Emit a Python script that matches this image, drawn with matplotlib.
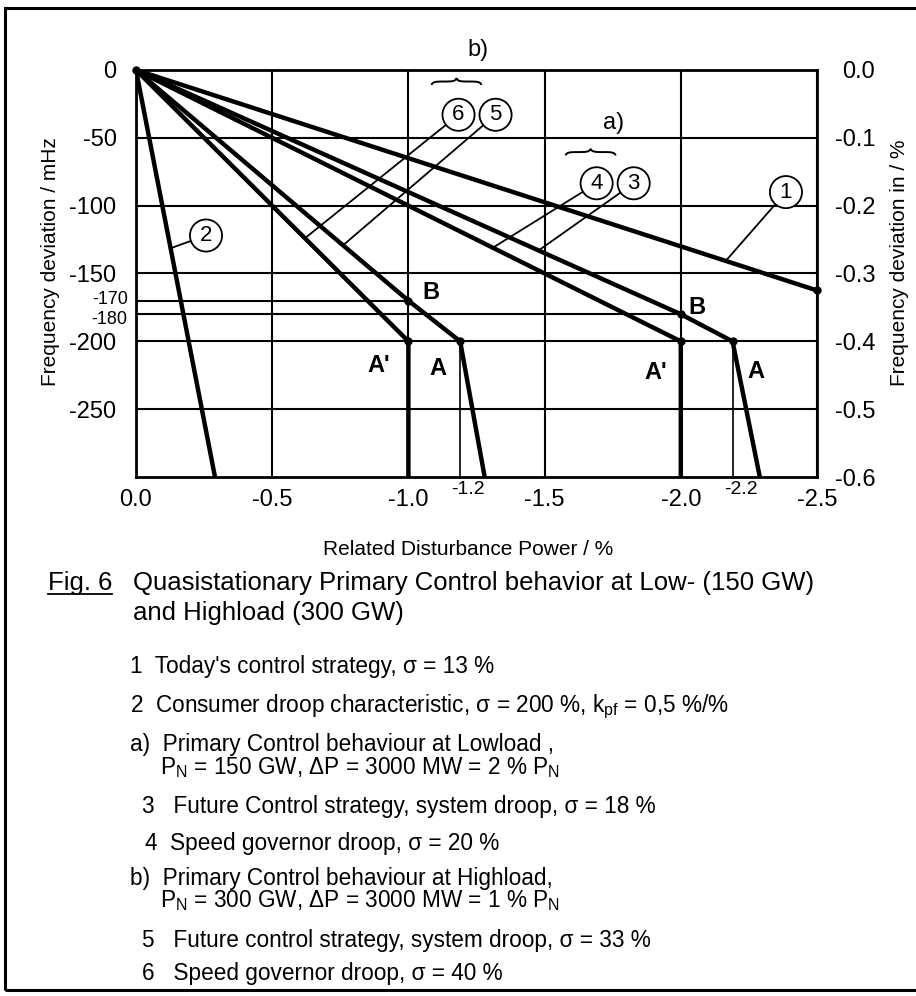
import numpy as np
import matplotlib.pyplot as plt
from matplotlib.path import Path
from matplotlib.patches import PathPatch, Rectangle
from matplotlib.transforms import ScaledTranslation

plt.rcParams['font.family'] = ['Liberation Sans', 'DejaVu Sans']
plt.rcParams['axes.unicode_minus'] = False
plt.rcParams['mathtext.fontset'] = 'custom'
plt.rcParams['mathtext.rm'] = 'Liberation Sans'
plt.rcParams['mathtext.it'] = 'Liberation Sans:italic'

# characteristics: related disturbance power (%) -> frequency deviation (mHz)
p1, f1 = [0, -2.5], [0, -162.5]
p2, f2 = [0, -0.29], [0, -300]
p3, f3 = [0, -2.0, -2.19, -2.29], [0, -180, -200, -300]
p4, f4 = [0, -2.0, -2.0], [0, -200, -300]
p5, f5 = [0, -1.0, -1.19, -1.28], [0, -170, -200, -300]
p6, f6 = [0, -1.0, -1.0], [0, -200, -300]
curves = [(p1, f1), (p2, f2), (p3, f3), (p4, f4), (p5, f5), (p6, f6)]

# marked operating points
dot_p = [0, -2.5, -1.0, -1.0, -1.19, -2.0, -2.0, -2.19]
dot_f = [0, -162.5, -170, -200, -200, -180, -200, -200]

# B points (partial horizontal lines) and A points (drop lines)
b_p, b_f = [-1.0, -2.0], [-170, -180]
a_p, a_f = [-1.19, -2.19], [-200, -200]

x_ticks = [0.0, -0.5, -1.0, -1.5, -2.0, -2.5]
x_labels = ['0.0', '-0.5', '-1.0', '-1.5', '-2.0', '-2.5']
x_extra_labels = ['-1.2', '-2.2']
y_ticks = [0, -50, -100, -150, -200, -250]
y_labels = ['0', '-50', '-100', '-150', '-200', '-250']
y_extra_labels = ['-170', '-180']
r_ticks = [0.0, -0.1, -0.2, -0.3, -0.4, -0.5, -0.6]
r_labels = ['0.0', '-0.1', '-0.2', '-0.3', '-0.4', '-0.5', '-0.6']

# circled curve numbers: label, circle position, power where the leader hits the curve
circ_names = ['1', '2', '3', '4', '5', '6']
circ_pos = [(-2.386, -90), (-0.257, -122), (-1.827, -83.5), (-1.691, -83.5), (-1.32, -33), (-1.184, -33)]
circ_hit = [-2.165, -0.127, -1.478, -1.31, -0.76, -0.62]

pt_names = ['B', "A'", 'A', 'B', "A'", 'A']
pt_pos = [(-1.081, -164), (-0.89, -218), (-1.11, -220), (-2.059, -175), (-1.908, -223), (-2.276, -222)]

fig = plt.figure(figsize=(9.16, 9.96), dpi=100)
ax = fig.add_axes([136/916, 1-477/996, 681/916, 407/996])
ax.set_xlim(0, -2.5)
ax.set_ylim(-300, 0)

ax.set_xticks(x_ticks)
ax.set_xticklabels(x_labels)
ax.set_xticks(a_p, minor=True)
ax.set_xticklabels(x_extra_labels, minor=True)
ax.set_yticks(y_ticks)
ax.set_yticklabels(y_labels)
ax.set_yticks(b_f, minor=True)
ax.set_yticklabels(y_extra_labels, minor=True)
ax.tick_params(which='both', length=0)
ax.tick_params(axis='x', which='major', labelsize=17, pad=9)
ax.tick_params(axis='x', which='minor', labelsize=14, pad=3)
ax.tick_params(axis='y', which='major', labelsize=17, pad=14)
ax.tick_params(axis='y', which='minor', labelsize=13, pad=6)
ax.grid(True, which='major', color='black', lw=1.5)
for s in ax.spines.values():
    s.set_linewidth(2)

ax.hlines(b_f, 0, b_p, color='black', lw=1.5)
ax.vlines(a_p, -300, a_f, color='black', lw=1.2)

for p, f in curves:
    ax.plot(p, f, color='black', lw=3.2, solid_capstyle='butt', zorder=3)
ax.plot(dot_p, dot_f, 'o', color='black', ms=5, zorder=4, clip_on=False)

for name, (x, y) in zip(pt_names, pt_pos):
    ax.text(x, y, name, fontsize=17, fontweight='bold', ha='center', va='center')

for name, (x, y), hit, (p, f) in zip(circ_names, circ_pos, circ_hit, curves):
    fy = np.interp(-hit, -np.array(p), f)
    ax.annotate(name, xy=(hit, fy), xytext=(x, y), fontsize=16, ha='center', va='center',
                bbox=dict(boxstyle='circle,pad=0.25', fc='white', ec='black', lw=1.3),
                arrowprops=dict(arrowstyle='-', lw=1.3, color='black', shrinkA=0, shrinkB=0),
                zorder=5)

# group markers a) and b) with braces
ax.text(-1.257, 14.8, 'b)', fontsize=17, ha='center', va='center', clip_on=False)
ax.text(-1.754, -39, 'a)', fontsize=17, ha='center', va='center')


def brace(x0, x1, yb, h):
    u = [0, 0.02, 0.1, 0.25, 0.4, 0.48, 0.5, 0.52, 0.6, 0.75, 0.9, 0.98, 1]
    v = [-1, 0, 0, 0, 0, 0, 1, 0, 0, 0, 0, 0, -1]
    verts = [(x0 + a*(x1-x0), yb + b*h) for a, b in zip(u, v)]
    codes = [Path.MOVETO] + [Path.CURVE4]*12
    ax.add_patch(PathPatch(Path(verts, codes), fill=False, lw=1.4, clip_on=False))


brace(-1.085, -1.268, -8.5, 2.5)
brace(-1.577, -1.761, -60.5, 2.5)

ax2 = ax.twinx()
ax2.set_ylim(-0.6, 0)
ax2.set_yticks(r_ticks)
ax2.set_yticklabels(r_labels)
ax2.tick_params(length=0, labelsize=17, pad=42)
for lab in ax2.get_yticklabels():
    lab.set_ha('right')
for s in ax2.spines.values():
    s.set_visible(False)

ax.set_ylabel('Frequency deviation / mHz', fontsize=15)
ax.yaxis.set_label_coords(-0.112, 0.53)
ax2.set_ylabel('Frequency deviation in / %', fontsize=15, rotation=90)
ax2.yaxis.set_label_coords(1.107, 0.527)
ax.set_xlabel('Related Disturbance Power / %', fontsize=15)
ax.xaxis.set_label_coords(0.4875, -0.155)

# small A-point labels sit a little right of their drop lines
shift = ScaledTranslation(8/100, 0, fig.dpi_scale_trans)
for lab in ax.get_xticklabels(minor=True):
    lab.set_transform(lab.get_transform() + shift)
# spread the close -170 / -180 labels apart a little
for lab, dy in zip(ax.get_yticklabels(minor=True), [3, -3]):
    lab.set_transform(lab.get_transform() + ScaledTranslation(0, dy/100, fig.dpi_scale_trans))

# caption
W, H = 916, 996
cap = 18.5
fs = 16.3
t_fig = fig.text(48/W, 1-583/H, 'Fig. 6', fontsize=cap, va='center')
fig.text(133/W, 1-583/H, 'Quasistationary Primary Control behavior at Low- (150 GW)', fontsize=cap, va='center')
fig.text(133/W, 1-613/H, 'and Highload (300 GW)', fontsize=cap, va='center')

items = [
    (130, 667, '1  Today\'s control strategy, σ = 13 %'),
    (130, 707, '2  Consumer droop characteristic, σ = 200 %, k$_{\\mathrm{pf}}$ = 0,5 %/%'),
    (130, 745, 'a)  Primary Control behaviour at Lowload ,'),
    (160, 768, 'P$_{\\mathrm{N}}$ = 150 GW, ΔP = 3000 MW = 2 % P$_{\\mathrm{N}}$'),
    (142, 806, '3   Future Control strategy, system droop, σ = 18 %'),
    (145, 843, '4  Speed governor droop, σ = 20 %'),
    (130, 878, 'b)  Primary Control behaviour at Highload,'),
    (160, 901, 'P$_{\\mathrm{N}}$ = 300 GW, ΔP = 3000 MW = 1 % P$_{\\mathrm{N}}$'),
    (142, 940, '5   Future control strategy, system droop, σ = 33 %'),
    (142, 973, '6   Speed governor droop, σ = 40 %'),
]
for x, y, s in items:
    fig.text(x/W, 1-y/H, s, fontsize=fs, va='center')

# underline "Fig. 6"
fig.canvas.draw()
bb = t_fig.get_window_extent().transformed(fig.transFigure.inverted())
fig.add_artist(plt.Line2D([bb.x0, bb.x1], [bb.y0 + 0.001, bb.y0 + 0.001], color='black', lw=1.3,
                          transform=fig.transFigure))

# page frame
fig.add_artist(Rectangle((5/W, 1-990/H), 1.05, (990-8)/H, transform=fig.transFigure,
                         fill=False, lw=2.2, color='black'))

fig.savefig('out.png', dpi=100)
